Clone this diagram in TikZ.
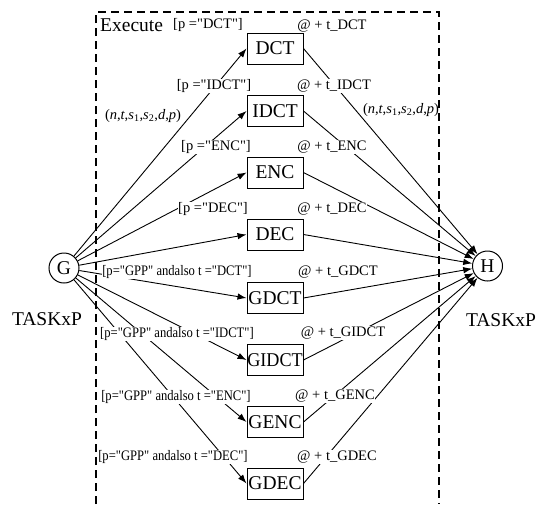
\documentclass[tikz,border=0pt]{standalone}
\usepackage{fontspec}
\setmainfont{Liberation Serif}
% same face without TeX ligatures, so that " stays a straight quote
\newfontfamily\plainserif{Liberation Serif}
\usepackage{graphicx}
\usetikzlibrary{arrows.meta}
\begin{document}
\begin{tikzpicture}[x=1pt,y=-1pt,
  big/.style={font=\fontsize{19.5}{22}\selectfont},
  small/.style={font=\plainserif\fontsize{14.5}{16}\selectfont},
  task/.style={draw,line width=1pt,minimum width=56pt,minimum height=31pt,inner sep=0pt,big},
  place/.style={draw,circle,line width=1pt,minimum size=30pt,inner sep=0pt,big},
  lbl/.style={small,fill=white,inner sep=0.5pt},
  arc/.style={line width=0.9pt,-{Latex[length=9pt,width=6.5pt]}},
  frame/.style={line width=1.2pt,dash pattern=on 8pt off 5pt}
]
\useasboundingbox (0,0) rectangle (537,504);

% dashed frame of the Execute transition (open at the bottom)
\coordinate (fbl) at (96,504);
\coordinate (ftl) at (96,12);
\coordinate (ftr) at (439,12);
\coordinate (fbr) at (439,504);
\draw[frame] (fbl) -- (ftl) -- (ftr) -- (fbr);

% places
\node[place] (G) at (64,268) {G};
\node[place] (H) at (487.5,266) {H};
\node[big] (tl) at (47,319) {TASKxP};
\node[big] (tr) at (501,320) {TASKxP};
\node[big,anchor=west,inner sep=0pt] (exe) at (100,25) {Execute};

% transitions
\node[task] (DCT)   at (275,48.5)  {DCT};
\node[task] (IDCT)  at (275,111)   {IDCT};
\node[task] (ENC)   at (275,172.5) {ENC};
\node[task] (DEC)   at (275,234.5) {DEC};
\node[task] (GDCT)  at (275,298)   {GDCT};
\node[task] (GIDCT) at (275,360)   {\scalebox{0.93}[1]{GIDCT}};
\node[task] (GENC)  at (275,422)   {GENC};
\node[task] (GDEC)  at (275,483.5) {GDEC};

% arcs
\foreach \t in {DCT,IDCT,ENC,DEC,GDCT,GIDCT,GENC,GDEC}{
  \draw[arc] (G) -- (\t.west);
  \draw[arc] (\t.east) -- (H);
}

% guards
\node[lbl] (gDCT) at (208,25)  {[p ="DCT"]};
\node[lbl] (gIDCT) at (214,86) {[p ="IDCT"]};
\node[lbl] (gENC) at (216,147) {[p ="ENC"]};
\node[lbl] (gDEC) at (213,209) {[p ="DEC"]};
\node[lbl] (gGDCT) at (177,272)  {\scalebox{0.87}[1]{[p="GPP" andalso t ="DCT"]}};
\node[lbl] (gGIDCT) at (177,334) {\scalebox{0.87}[1]{[p="GPP" andalso t ="IDCT"]}};
\node[lbl] (gGENC) at (176,397)  {\scalebox{0.87}[1]{[p="GPP" andalso t ="ENC"]}};
\node[lbl] (gGDEC) at (173,457)  {\scalebox{0.87}[1]{[p="GPP" andalso t ="DEC"]}};

% time delays
\node[lbl] (dDCT) at (332,26)  {@ + t\_DCT};
\node[lbl] (dIDCT) at (334,86) {@ + t\_IDCT};
\node[lbl] (dENC) at (332,147) {@ + t\_ENC};
\node[lbl] (dDEC) at (332,209) {@ + t\_DEC};
\node[lbl] (dGDCT) at (338,272)  {@ + t\_GDCT};
\node[lbl] (dGIDCT) at (343,333) {@ + t\_GIDCT};
\node[lbl] (dGENC) at (335,396)  {@ + t\_GENC};
\node[lbl] (dGDEC) at (337,457)  {@ + t\_GDEC};

% arc inscriptions
\node[small,inner sep=0pt] (inL) at (143,116) {(\textit{n},\textit{t},\textit{s}\textsubscript{1},\textit{s}\textsubscript{2},\textit{d},\textit{p})};
\node[small,inner sep=0pt] (inR) at (401,110) {(\textit{n},\textit{t},\textit{s}\textsubscript{1},\textit{s}\textsubscript{2},\textit{d},\textit{p})};
\end{tikzpicture}
\end{document}
